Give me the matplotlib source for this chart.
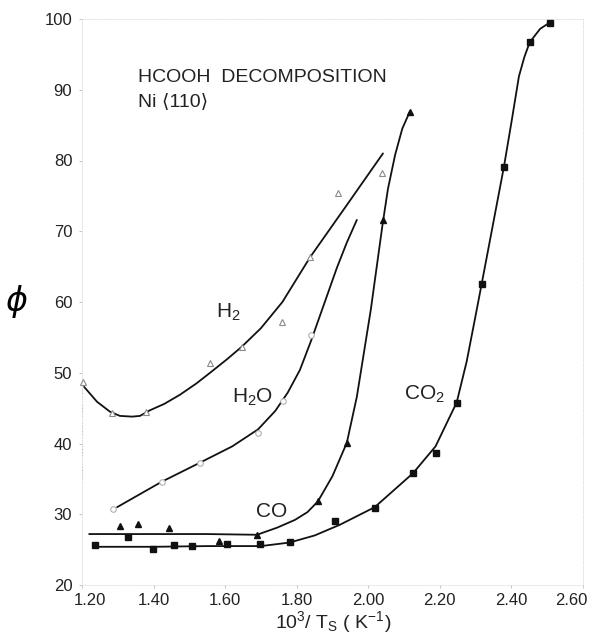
import numpy as np
import matplotlib.pyplot as plt
from matplotlib.transforms import ScaledTranslation

plt.rcParams['font.family'] = ['Liberation Sans', 'DejaVu Sans']
plt.rcParams['mathtext.default'] = 'regular'

# measured points
h2_x = [1.203, 1.284, 1.379, 1.558, 1.647, 1.759, 1.837, 1.915, 2.038]
h2_y = [48.7, 44.3, 44.5, 51.4, 53.7, 57.2, 66.3, 75.4, 78.3]

h2o_x = [1.287, 1.423, 1.530, 1.692, 1.763, 1.840]
h2o_y = [30.8, 34.6, 37.3, 41.5, 46.0, 55.4]

co_x = [1.306, 1.356, 1.443, 1.583, 1.689, 1.859, 1.940, 2.040, 2.116]
co_y = [28.4, 28.6, 28.1, 26.2, 27.0, 31.9, 40.1, 71.6, 86.9]

co2_x = [1.236, 1.328, 1.398, 1.457, 1.507, 1.605, 1.697, 1.781, 1.907,
         2.018, 2.125, 2.188, 2.247, 2.317, 2.379, 2.451, 2.507]
co2_y = [25.7, 26.8, 25.1, 25.7, 25.5, 25.8, 25.8, 26.1, 29.1,
         30.9, 35.8, 38.7, 45.7, 62.6, 79.1, 96.7, 99.5]

# hand-drawn trend curves
h2_cx = [1.206, 1.242, 1.278, 1.306, 1.340, 1.362, 1.390, 1.430, 1.474,
         1.520, 1.558, 1.605, 1.647, 1.700, 1.760, 1.837, 1.940, 2.041]
h2_cy = [48.0, 45.9, 44.5, 43.9, 43.8, 43.9, 44.7, 45.6, 46.9,
         48.5, 50.0, 51.9, 53.7, 56.3, 60.0, 66.3, 73.7, 81.0]

h2o_cx = [1.298, 1.423, 1.530, 1.620, 1.692, 1.740, 1.775, 1.809, 1.840,
          1.875, 1.912, 1.940, 1.968]
h2o_cy = [31.0, 34.6, 37.3, 39.6, 42.0, 44.6, 47.2, 50.4, 54.5,
          59.5, 64.8, 68.4, 71.6]

co_cx = [1.22, 1.40, 1.55, 1.689, 1.745, 1.795, 1.830, 1.859, 1.900, 1.940,
         1.968, 2.007, 2.040, 2.055, 2.075, 2.095, 2.116]
co_cy = [27.2, 27.2, 27.2, 27.1, 28.1, 29.2, 30.3, 31.8, 35.4, 40.1,
         46.6, 58.9, 71.0, 76.0, 80.8, 84.5, 86.9]

co2_cx = [1.236, 1.40, 1.55, 1.70, 1.78, 1.85, 1.92, 2.018, 2.125, 2.188,
          2.247, 2.275, 2.303, 2.317, 2.379, 2.400, 2.421, 2.436, 2.451,
          2.480, 2.507]
co2_cy = [25.4, 25.4, 25.5, 25.5, 26.0, 27.0, 28.5, 31.0, 35.8, 39.6,
          45.8, 51.6, 58.9, 62.6, 79.1, 85.4, 91.9, 94.6, 96.7,
          98.6, 99.5]

x_ticks = [1.20, 1.40, 1.60, 1.80, 2.00, 2.20, 2.40, 2.60]
y_ticks = [20, 30, 40, 50, 60, 70, 80, 90, 100]

fig = plt.figure(figsize=(5.95, 6.36), dpi=100)
ax = fig.add_axes([82 / 595, 1 - 585 / 636, 501 / 595, 566 / 636])

ink = '#111111'
for cx, cy in [(h2_cx, h2_cy), (h2o_cx, h2o_cy), (co_cx, co_cy), (co2_cx, co2_cy)]:
    ax.plot(cx, cy, color=ink, lw=1.3, solid_capstyle='round', solid_joinstyle='round')

ax.plot(h2_x, h2_y, ls='none', marker='^', ms=4, mfc='white', mec='#8a8a8a',
        mew=0.8, clip_on=False, zorder=3)
ax.plot(h2o_x, h2o_y, ls='none', marker='o', ms=4, mfc='white', mec='#b0b0b0',
        mew=0.8, clip_on=False, zorder=3)
ax.plot(co_x, co_y, ls='none', marker='^', ms=5, color=ink, zorder=3)
ax.plot(co2_x, co2_y, ls='none', marker='s', ms=3.8, color=ink, zorder=3)

# faint dotted guide at the left edge
ax.plot([1.20, 1.20], [34.5, 47.5], color='#999999', lw=0.8, ls=':')

ax.set_xlim(1.20, 2.60)
ax.set_ylim(20, 100)
ax.set_xticks(x_ticks)
ax.set_xticklabels([f'{v:.2f}' for v in x_ticks])
ax.set_yticks(y_ticks)
ax.tick_params(axis='both', length=2, width=0.6, color='#bbbbbb',
               labelsize=12, labelcolor='#222222')
ax.tick_params(axis='x', pad=4)
ax.tick_params(axis='y', pad=5)
for s in ax.spines.values():
    s.set_color('#e2e2e2')
    s.set_linestyle(':')
    s.set_linewidth(0.7)

# pull the end labels inward a little
labels = ax.get_xticklabels()
labels[0].set_transform(labels[0].get_transform() + ScaledTranslation(8 / 100, 0, fig.dpi_scale_trans))
labels[-1].set_transform(labels[-1].get_transform() + ScaledTranslation(-12 / 100, 0, fig.dpi_scale_trans))

ax.text(1.356, 91.7, 'HCOOH  DECOMPOSITION', fontsize=14, color='#222222', va='center')
ax.text(1.356, 88.3, 'Ni ⟨110⟩', fontsize=14, color='#222222', va='center')

ax.text(1.608, 58.5, 'H$_2$', fontsize=15, color='#222222', ha='center', va='center')
ax.text(1.678, 46.5, 'H$_2$O', fontsize=15, color='#222222', ha='center', va='center')
ax.text(1.730, 30.4, 'CO', fontsize=15, color='#222222', ha='center', va='center')
ax.text(2.158, 46.9, 'CO$_2$', fontsize=15, color='#222222', ha='center', va='center')

fig.text(16 / 595, 1 - 302 / 636, 'ϕ', fontsize=24, style='italic',
         family='DejaVu Sans', ha='center', va='center')
fig.text(333 / 595, 1 - 622 / 636, '10$^3$/ T$_S$ ( K$^{-1}$)', fontsize=14,
         color='#222222', ha='center', va='center')

fig.savefig('out.png', dpi=100)
